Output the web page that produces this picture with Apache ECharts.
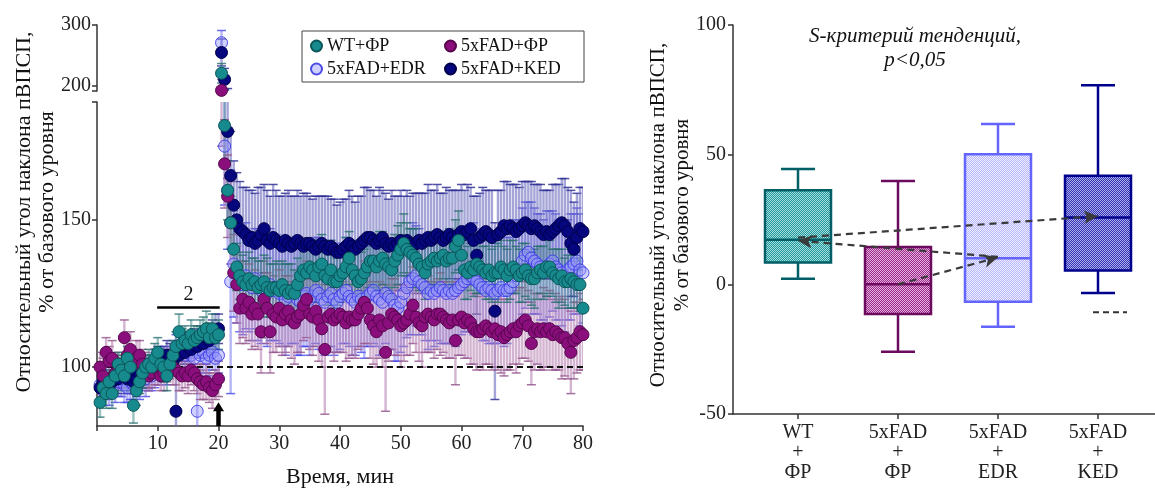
<!DOCTYPE html>
<html><head><meta charset="utf-8">
<script src="https://cdn.jsdelivr.net/npm/echarts@6/dist/echarts.min.js"></script>
<style>html,body{margin:0;padding:0;background:#fff}#c{width:1155px;height:489px}</style>
</head><body><div id="c"></div><script>
// ---------- Left panel data (time, min) ----------
const times = [0.5,1,1.5,2,2.5,3,3.5,4,4.5,5, 5.5,6,6.5,7,7.5,8,8.5,9,9.5,10,
 10.5,11,11.5,12,12.5,13,13.5,14,14.5,15, 15.5,16,16.5,17,17.5,18,18.5,19,19.5,20,
 20.5,21,21.5,22,22.5,23,23.5,24,24.5,25, 25.5,26,26.5,27,27.5,28,28.5,29,29.5,30,
 30.5,31,31.5,32,32.5,33,33.5,34,34.5,35, 35.5,36,36.5,37,37.5,38,38.5,39,39.5,40,
 40.5,41,41.5,42,42.5,43,43.5,44,44.5,45, 45.5,46,46.5,47,47.5,48,48.5,49,49.5,50,
 50.5,51,51.5,52,52.5,53,53.5,54,54.5,55, 55.5,56,56.5,57,57.5,58,58.5,59,59.5,60,
 60.5,61,61.5,62,62.5,63,63.5,64,64.5,65, 65.5,66,66.5,67,67.5,68,68.5,69,69.5,70,
 70.5,71,71.5,72,72.5,73,73.5,74,74.5,75, 75.5,76,76.5,77,77.5,78,78.5,79,79.5,80];

const wtVals = [88,93,91,95,91,97,101,99,97,103, 100,87,92,95,98,100,101,100,103,105,
 101,100,97,101,104,107,112,108,109,108, 111,109,110,111,112,113,110,113,110,111,
 221,182,160,149,140,134,131,129,128,130, 128,129,127,128,129,127,126,127,127,126,
 128,126,125,126,125,128,131,133,132,134, 133,131,134,135,131,130,133,129,129,131,
 132,134,137,133,131,129,130,132,134,136, 136,134,136,137,135,134,133,136,138,140,
 142,140,139,138,137,135,134,132,135,136, 137,136,137,138,136,137,137,141,143,138,
 133,132,134,133,135,134,133,132,133,131, 132,132,134,133,131,133,134,133,131,132,
 133,131,130,130,132,133,132,134,134,132, 131,130,131,129,129,130,129,128,128,120];
const wtErr = [5,4,5,4,5,5,4,5,5,4, 5,6,5,4,5,4,5,4,5,5, 4,5,5,4,5,5,6,5,5,4, 5,5,4,5,5,6,5,5,4,5,
 16,12,10,9,9,8,8,9,8,9, 9,8,9,8,9,10,9,8,9,9, 8,9,10,9,8,9,10,9,8,9, 10,9,9,10,8,9,10,9,8,9,
 9,10,9,8,9,10,9,8,10,9, 9,8,10,9,8,9,10,9,10,9, 10,9,8,9,10,9,8,9,10,9, 9,10,9,8,9,10,9,9,10,9,
 10,9,8,9,10,9,8,9,10,9, 9,10,9,8,9,10,9,8,9,10, 9,8,9,10,9,8,9,10,9,8, 9,10,9,8,9,10,9,8,9,10];

const fadVals = [100,97,105,102,103,98,99,98,110,104, 106,101,103,104,101,99,97,98,100,99,
 97,98,100,101,100,99,98,97,98,97, 99,98,96,95,94,95,93,92,94,96,
 193,169,158,149,132,128,120,123,120,122, 118,120,118,112,123,120,112,118,117,120,
 116,118,119,116,115,117,118,121,123,118, 117,119,116,113,106,117,118,116,117,118,
 117,115,117,116,116,118,120,122,120,116, 114,112,116,114,105,115,118,117,116,114,
 115,116,118,121,117,115,114,117,118,117, 116,118,118,117,116,115,116,109,116,117,
 115,116,115,113,112,112,113,114,113,112, 113,111,112,110,111,112,113,112,114,115,
 116,114,108,112,113,112,113,112,113,111, 112,111,110,110,108,105,109,110,112,111];
const fadErr = [5,6,5,5,6,5,6,5,6,5, 6,5,6,5,5,6,5,5,6,5, 5,6,5,5,6,5,6,5,5,6, 5,6,5,6,5,6,5,6,5,6,
 18,15,14,14,13,13,12,13,12,13, 12,13,12,14,13,12,14,13,12,13, 12,13,12,13,14,12,13,12,13,12, 13,12,14,13,22,12,13,14,12,13,
 12,13,14,12,13,12,13,14,12,13, 13,12,13,14,20,13,12,13,12,14, 13,12,14,13,12,13,14,12,13,12, 13,12,14,12,13,12,13,15,12,13,
 12,13,14,12,13,12,14,13,12,13, 13,12,14,13,12,13,12,14,13,12, 13,12,14,13,12,13,14,12,13,12, 13,12,14,13,12,14,13,12,13,12];

const edrVals = [94,92,95,93,96,94,95,96,94,93, 95,94,96,95,97,96,98,97,99,100,
 99,101,100,102,103,104,105,106,104,105, 104,103,85,104,105,103,104,105,103,104,
 271,175,160,129,135,132,130,128,131,129, 127,130,128,126,127,125,128,126,127,125,
 125,123,124,126,125,123,122,124,125,123, 124,126,125,123,122,124,125,123,122,124,
 125,126,124,123,122,124,123,122,124,125, 126,124,123,122,125,124,123,121,120,122,
 125,127,129,130,131,129,128,127,125,126, 125,126,127,126,125,126,125,126,127,128,
 129,130,131,130,129,128,127,126,127,126, 125,126,127,126,126,127,129,131,133,136,
 138,139,137,136,135,134,133,134,135,136, 134,133,132,131,133,134,135,136,133,132];
const edrErr = [6,5,6,6,5,6,5,6,6,5, 6,5,6,6,5,6,6,5,6,6, 5,6,6,5,6,7,6,6,7,6, 6,7,15,6,7,6,7,6,7,6,
 20,20,20,38,18,17,18,17,18,17, 18,17,19,18,17,18,19,17,18,17, 18,19,17,18,17,19,18,17,18,19, 17,18,19,17,18,17,18,19,17,18,
 17,18,17,19,18,17,18,19,17,18, 18,17,19,18,17,18,17,19,18,17, 18,17,18,19,17,18,17,18,19,17, 18,17,19,18,17,18,17,19,18,17,
 17,18,17,19,18,17,18,17,19,18, 17,18,17,19,18,17,18,19,17,18, 18,17,19,18,17,18,17,19,18,17, 18,17,18,19,17,18,17,18,19,17];

const kedVals = [93,95,94,96,95,97,96,98,97,96, 97,95,96,98,97,99,98,100,101,102,
 101,103,104,103,102,85,104,106,105,107, 106,108,107,109,108,110,109,111,112,113,
 255,211,180,165,155,150,147,146,145,143, 144,142,143,145,147,143,142,144,143,142,
 141,143,142,141,142,143,142,141,142,142, 141,140,141,142,141,140,141,140,139,139,
 140,141,142,141,140,141,142,143,144,144, 143,142,143,144,142,141,142,141,142,143,
 142,143,142,141,142,143,142,143,144,143, 144,145,144,143,144,145,144,143,145,146,
 145,146,147,143,138,144,145,146,145,144, 119,145,146,148,147,148,147,146,147,148,
 149,148,147,148,147,146,145,146,145,146, 147,148,149,148,146,142,140,144,147,146];
const kedErr = [5,5,4,5,5,4,5,5,4,5, 5,4,5,5,4,5,5,4,5,5, 5,4,5,5,4,15,5,5,4,5, 5,5,4,5,5,4,5,5,6,5,
 22,18,16,15,15,16,16,15,16,17, 16,17,18,16,15,17,16,18,17,16, 17,16,18,17,16,17,16,18,17,16, 16,18,17,16,17,18,16,17,16,17,
 17,16,18,17,16,17,16,18,17,16, 17,16,18,16,17,16,18,17,16,17, 16,17,16,18,17,16,17,16,18,17, 16,17,15,16,17,15,16,17,15,16,
 15,16,14,15,20,15,16,14,15,16, 30,15,14,15,16,14,15,16,14,15, 14,15,16,14,15,16,15,14,15,16, 15,14,15,16,15,18,16,15,14,15];

const seriesNames = ['WT+ФР','5xFAD+ФР','5xFAD+EDR','5xFAD+KED'];

// ---------- Right panel data ----------
const boxCats = ['WT\n+\nФР','5xFAD\n+\nФР','5xFAD\n+\nEDR','5xFAD\n+\nKED'];
const boxMin = [2.2, -26, -16.4, -3.3];
const boxQ1  = [8.4, -11.4, -6.7, 5.3];
const boxMed = [17.2, 0, 10.1, 25.8];
const boxQ3  = [36.3, 14.4, 50.2, 41.9];
const boxMax = [44.5, 39.8, 61.8, 76.8];
const boxExtra = [null, null, null, -10.8];

// ---------- styles ----------
const FONT = "'Liberation Serif','DejaVu Serif',serif";
const boxStroke = ['#005e66','#6b0a5e','#6464ff','#00008e'];
const boxFillA = ['#1f9a9c','#9a2a8a','#b4b4ff','#3232b4'];
const boxFillB = ['#a8dcdc','#e6b0de','#f0f0ff','#aeaeea'];
function makePattern(a, b) {
  const c = document.createElement('canvas'); c.width = 2; c.height = 2;
  const g = c.getContext('2d');
  g.fillStyle = a; g.fillRect(0, 0, 2, 2);
  g.fillStyle = b; g.fillRect(0, 0, 1, 1); g.fillRect(1, 1, 1, 1);
  return { image: c, repeat: 'repeat' };
}

function mk(vals, errs) { return times.map((t, i) => [t, vals[i], errs[i]]); }
const dWT = mk(wtVals, wtErr), dFAD = mk(fadVals, fadErr), dEDR = mk(edrVals, edrErr), dKED = mk(kedVals, kedErr);

function errRender(color, capColor) {
  return function (params, api) {
    const x = api.value(0), v = api.value(1), e = api.value(2);
    const hi = api.coord([x, v + e]), lo = api.coord([x, v - e]);
    const cw = 4.5;
    const st = { stroke: color, lineWidth: 2.4 };
    const cs = { stroke: capColor, lineWidth: 1.5 };
    return { type: 'group', children: [
      { type: 'line', shape: { x1: hi[0], y1: hi[1], x2: lo[0], y2: lo[1] }, style: st },
      { type: 'line', shape: { x1: hi[0] - cw, y1: hi[1], x2: hi[0] + cw, y2: hi[1] }, style: cs },
      { type: 'line', shape: { x1: lo[0] - cw, y1: lo[1], x2: lo[0] + cw, y2: lo[1] }, style: cs }
    ]};
  };
}

const styles = {
  'WT+ФР':     { data: dWT,  fill: '#178a8e', border: '#0a5558', err: 'rgba(60,130,130,0.5)', cap: 'rgba(40,110,110,0.8)' },
  '5xFAD+ФР':  { data: dFAD, fill: '#8a0f7c', border: '#55064c', err: 'rgba(185,135,180,0.62)', cap: 'rgba(150,90,145,0.85)' },
  '5xFAD+EDR': { data: dEDR, fill: 'rgba(150,150,255,0.45)', border: 'rgba(60,60,230,0.9)', err: 'rgba(90,90,240,0.45)', cap: 'rgba(70,70,230,0.8)' },
  '5xFAD+KED': { data: dKED, fill: '#06067e', border: '#00004a', err: 'rgba(110,110,190,0.62)', cap: 'rgba(50,50,150,0.85)' }
};
const drawOrder = ['5xFAD+EDR','5xFAD+KED','5xFAD+ФР','WT+ФР'];

const series = [];
[0, 1].forEach(g => {
  drawOrder.forEach(n => {
    series.push({ type: 'custom', name: 'err-' + n, xAxisIndex: g, yAxisIndex: g, data: styles[n].data,
      renderItem: errRender(styles[n].err, styles[n].cap), clip: true, z: 1, silent: true,
      encode: { x: 0, y: 1 } });
  });
});
// annotations (left)
series.push({ type: 'scatter', name: 'annot-left', xAxisIndex: 0, yAxisIndex: 0, data: [], z: 3, silent: true,
  markLine: { silent: true, animation: false, symbol: ['none','none'], label: { show: false },
    data: [
      [{ coord: [0, 100], lineStyle: { type: [6, 4], color: '#111', width: 2 } }, { coord: [80, 100] }],
      [{ coord: [9.9, 120.4], lineStyle: { type: 'solid', color: '#000', width: 2.5 },
         label: { show: true, formatter: '2', position: 'insideMiddleTop', distance: 2, fontSize: 20, fontFamily: FONT, color: '#111' } },
       { coord: [20.2, 120.4] }],
      [{ coord: [70.9, 169.7], lineStyle: { type: 'solid', color: '#000', width: 2.5 },
         label: { show: true, formatter: '1', position: 'insideMiddleTop', distance: 2, offset: [9, 0], fontSize: 20, fontFamily: FONT, color: '#111' } },
       { coord: [80.3, 169.7] }],
      [{ coord: [20, 80], symbol: 'none', lineStyle: { type: 'solid', color: '#000', width: 4.5 } },
       { coord: [20, 86.5], symbol: 'triangle', symbolSize: [11, 9] }]
    ] } });
[0, 1].forEach(g => {
  drawOrder.forEach(n => {
    series.push({ type: 'scatter', name: n, xAxisIndex: g, yAxisIndex: g,
      data: styles[n].data.map(d => [d[0], d[1]]), symbolSize: 12, clip: true, z: 5,
      itemStyle: { color: styles[n].fill, borderColor: styles[n].border, borderWidth: 1, opacity: 1 } });
  });
});

// right: boxes
const boxData = boxCats.map((c, i) => [i, boxMin[i], boxQ1[i], boxMed[i], boxQ3[i], boxMax[i]]);
series.push({ type: 'custom', name: 'boxes', xAxisIndex: 3, yAxisIndex: 3, data: boxData, z: 2, silent: true,
  encode: { x: 0, y: [1, 5] },
  renderItem: function (params, api) {
    const i = api.value(0);
    const band = api.size([1, 0])[0];
    const hw = band * 0.33, cw = band * 0.17;
    const pMin = api.coord([i, api.value(1)]), pQ1 = api.coord([i, api.value(2)]),
          pMed = api.coord([i, api.value(3)]), pQ3 = api.coord([i, api.value(4)]),
          pMax = api.coord([i, api.value(5)]);
    const cx = pMed[0];
    const stroke = boxStroke[i];
    const ls = { stroke: stroke, lineWidth: 2.5 };
    const ch = [
      { type: 'line', shape: { x1: cx, y1: pQ3[1], x2: cx, y2: pMax[1] }, style: ls },
      { type: 'line', shape: { x1: cx - cw, y1: pMax[1], x2: cx + cw, y2: pMax[1] }, style: ls },
      { type: 'line', shape: { x1: cx, y1: pQ1[1], x2: cx, y2: pMin[1] }, style: ls },
      { type: 'line', shape: { x1: cx - cw, y1: pMin[1], x2: cx + cw, y2: pMin[1] }, style: ls },
      { type: 'rect', shape: { x: cx - hw, y: pQ3[1], width: hw * 2, height: pQ1[1] - pQ3[1] },
        style: { fill: makePattern(boxFillA[i], boxFillB[i]), stroke: stroke, lineWidth: 2.5 } },
      { type: 'line', shape: { x1: cx - hw, y1: pMed[1], x2: cx + hw, y2: pMed[1] }, style: ls }
    ];
    const ex = boxExtra[params.dataIndex];
    if (typeof ex === 'number') {
      const pe = api.coord([i, ex]);
      ch.push({ type: 'line', shape: { x1: cx - band * 0.05, y1: pe[1], x2: cx + band * 0.29, y2: pe[1] },
        style: { stroke: '#333', lineWidth: 2, lineDash: [6, 4] } });
    }
    return { type: 'group', children: ch };
  } });
series.push({ type: 'scatter', name: 'annot-right', xAxisIndex: 3, yAxisIndex: 3, data: [], z: 4, silent: true,
  markLine: { silent: true, animation: false, label: { show: false }, symbol: ['none', 'arrow'], symbolSize: [10, 14],
    lineStyle: { color: '#3a3a3a', width: 2.2, type: [7, 5] },
    data: [
      [{ coord: [0, 18], symbol: 'none' }, { coord: [3, 26.3], symbol: 'arrow' }],
      [{ coord: [2, 10.6], symbol: 'none' }, { coord: [0, 16.8], symbol: 'arrow' }],
      [{ coord: [1, 0], symbol: 'none' }, { coord: [2, 10.4], symbol: 'arrow' }]
    ] } });

const axLine = { show: true, onZero: false, lineStyle: { color: '#333', width: 1.5 } };
const axTick = { show: true, length: 5, inside: false, lineStyle: { color: '#333', width: 1.5 } };
const axLab = { fontSize: 20, fontFamily: FONT, color: '#222' };

const option = {
  animation: false,
  textStyle: { fontFamily: FONT },
  grid: [
    { left: 97, width: 486, top: 102, height: 324, outerBoundsMode: 'none', containLabel: false },
    { left: 97, width: 486, top: 25, height: 66, outerBoundsMode: 'none', containLabel: false },
    { left: 733, right: 0, top: 25, height: 389, outerBoundsMode: 'none', containLabel: false },
    { left: 748, width: 400, top: 25, height: 389, outerBoundsMode: 'none', containLabel: false }
  ],
  xAxis: [
    { gridIndex: 0, type: 'value', min: 0, max: 80, interval: 10, axisLine: axLine, axisTick: axTick,
      axisLabel: Object.assign({}, axLab, { margin: 8, formatter: v => v === 0 ? '' : String(v) }),
      splitLine: { show: false }, name: 'Время, мин', nameLocation: 'middle', nameGap: 40,
      nameTextStyle: { fontSize: 22, fontFamily: FONT, color: '#111' } },
    { gridIndex: 1, type: 'value', min: 0, max: 80, show: false },
    { gridIndex: 2, type: 'value', min: 0, max: 1, axisLine: axLine, axisTick: { show: false },
      axisLabel: { show: false }, splitLine: { show: false } },
    { gridIndex: 3, type: 'category', data: boxCats, boundaryGap: true, position: 'bottom',
      axisLine: { show: false, onZero: false },
      axisTick: Object.assign({}, axTick, { alignWithLabel: true }),
      axisLabel: Object.assign({}, axLab, { lineHeight: 20, margin: 9, interval: 0 }) }
  ],
  yAxis: [
    { gridIndex: 0, type: 'value', min: 80, max: 190, axisLine: axLine,
      axisTick: Object.assign({}, axTick, { customValues: [100, 150, 190] }),
      axisLabel: Object.assign({}, axLab, { margin: 6, customValues: [100, 150] }), splitLine: { show: false } },
    { gridIndex: 1, type: 'value', min: 192, max: 300, axisLine: axLine,
      axisTick: Object.assign({}, axTick, { customValues: [192, 200, 300] }),
      axisLabel: Object.assign({}, axLab, { margin: 6, customValues: [200, 300] }), splitLine: { show: false } },
    { gridIndex: 2, type: 'value', min: -50, max: 100, interval: 50, axisLine: axLine, axisTick: axTick,
      axisLabel: Object.assign({}, axLab, { margin: 7 }), splitLine: { show: false } },
    { gridIndex: 3, type: 'value', min: -50, max: 100, show: false }
  ],
  legend: {
    data: seriesNames, left: 302, top: 31, orient: 'horizontal', width: 270,
    itemWidth: 11, itemHeight: 11, itemGap: 5, icon: 'circle',
    borderColor: '#444', borderWidth: 1, padding: [6, 11, 4, 8],
    formatter: n => '{a|' + n + '}',
    textStyle: { fontSize: 18, fontFamily: FONT, color: '#111',
      rich: { a: { width: 112, lineHeight: 21, fontSize: 18, fontFamily: FONT, color: '#111' } } }
  },
  graphic: [
    { type: 'text', x: 36, y: 212, rotation: Math.PI / 2,
      style: { text: 'Относительный угол наклона пВПСП,\n% от базового уровня', font: '22px ' + FONT,
        textAlign: 'center', textVerticalAlign: 'middle', fill: '#111', lineHeight: 23 } },
    { type: 'text', x: 670, y: 215, rotation: Math.PI / 2,
      style: { text: 'Относительный угол наклона пВПСП,\n% от базового уровня', font: '21px ' + FONT,
        textAlign: 'center', textVerticalAlign: 'middle', fill: '#111', lineHeight: 24 } },
    { type: 'text', x: 915, y: 48,
      style: { text: 'S-критерий тенденций,\np<0,05', font: 'italic 21px ' + FONT,
        textAlign: 'center', textVerticalAlign: 'middle', fill: '#111', lineHeight: 24 } }
  ],
  series: series
};
const chart = echarts.init(document.getElementById('c'), null, { renderer: 'canvas' });
chart.setOption(option);
</script></body></html>
